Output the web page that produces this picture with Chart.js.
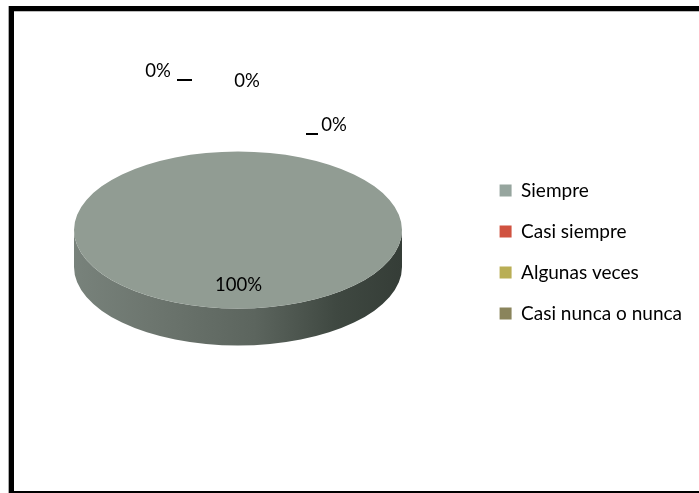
<!DOCTYPE html>
<html>
<head>
<meta charset="utf-8">
<title>Siempre</title>
<script src="https://cdn.jsdelivr.net/npm/chart.js@4/dist/chart.umd.min.js"></script>
<style>
    html, body { margin: 0; padding: 0; background: #fff; overflow: hidden; }
    #wrap { position: absolute; left: 0; top: 0; width: 699px; height: 493px; }
    #frame { position: absolute; left: 9px; top: 6px; right: 0; bottom: 0;
             border-left: 5px solid #000; border-top: 5px solid #000; border-bottom: 2px solid #000;
             box-shadow: -1px 0 0 #aaa, inset 0 1px 0 #bbb; }
</style>
</head>
<body>
<div id="wrap">
    <canvas id="pie" width="699" height="493"></canvas>
    <div id="frame"></div>
</div>
<script>
const categories = ["Siempre", "Casi siempre", "Algunas veces", "Casi nunca o nunca"];
const seriesValues = [100, 0, 0, 0];
const sliceColors = ["#919c93", "#d05240", "#b9ae55", "#8a845c"];
const legendColors = ["#96a59e", "#d05240", "#b9ae55", "#8a845c"];

// where the percent labels sit, in page pixels
const labelSpots = [[238.5, 285], [158, 71], [247, 81], [334, 125]];
const leaderLines = [null, [177, 192, 80], null, [306, 318, 134]];

const squash = 0.479;      // flattening of the disc
const discX = 238;         // centre of the top face on the page
const discY = 230;
const depth = 37;          // height of the side wall

function squashed(ctx, arc) {
    ctx.translate(discX - arc.x, discY - arc.y * squash);
    ctx.scale(1, squash);
}

const discPlugin = {
    id: "disc",
    beforeDatasetsDraw(chart) {
        const ctx = chart.ctx;
        const arc = chart.getDatasetMeta(0).data[0];
        const r = arc.outerRadius;
        const ry = r * squash;
        // side wall
        const grad = ctx.createLinearGradient(discX - r, 0, discX + r, 0);
        grad.addColorStop(0, "#78827b");
        grad.addColorStop(0.25, "#6c756e");
        grad.addColorStop(0.55, "#5c655e");
        grad.addColorStop(0.8, "#3f4841");
        grad.addColorStop(1, "#353d37");
        ctx.save();
        ctx.fillStyle = grad;
        ctx.beginPath();
        ctx.ellipse(discX, discY, r, ry, 0, Math.PI, 0, true);
        ctx.lineTo(discX + r, discY + depth);
        ctx.ellipse(discX, discY + depth, r, ry, 0, 0, Math.PI, false);
        ctx.closePath();
        ctx.fill();
        ctx.restore();
        ctx.save();
        squashed(ctx, arc);
    },
    afterDatasetsDraw(chart) {
        const ctx = chart.ctx;
        ctx.restore();
        ctx.save();
        ctx.fillStyle = "#000";
        ctx.font = "18.5px Lato";
        ctx.textAlign = "center";
        ctx.textBaseline = "middle";
        seriesValues.forEach((v, i) => {
            ctx.fillText(v + "%", labelSpots[i][0], labelSpots[i][1]);
            const line = leaderLines[i];
            if (line) {
                ctx.fillRect(line[0], line[2] - 1, line[1] - line[0], 2);
            }
        });
        ctx.restore();
    }
};

new Chart(document.getElementById("pie"), {
    type: "pie",
    data: {
        labels: categories,
        datasets: [{ data: seriesValues, backgroundColor: sliceColors, borderWidth: 0 }]
    },
    options: {
        responsive: false,
        animation: false,
        layout: { padding: { left: 74, top: 88, bottom: 77, right: 7 } },
        plugins: {
            tooltip: { enabled: false },
            legend: {
                position: "right",
                align: "center",
                onClick: null,
                labels: {
                    font: { family: "Lato", size: 19 },
                    color: "#000",
                    boxWidth: 12,
                    boxHeight: 12,
                    padding: 22,
                    generateLabels(chart) {
                        return categories.map((name, i) => ({
                            text: name,
                            fillStyle: legendColors[i],
                            strokeStyle: legendColors[i],
                            lineWidth: 0,
                            index: i
                        }));
                    }
                }
            }
        }
    },
    plugins: [discPlugin]
});
</script>
</body>
</html>
